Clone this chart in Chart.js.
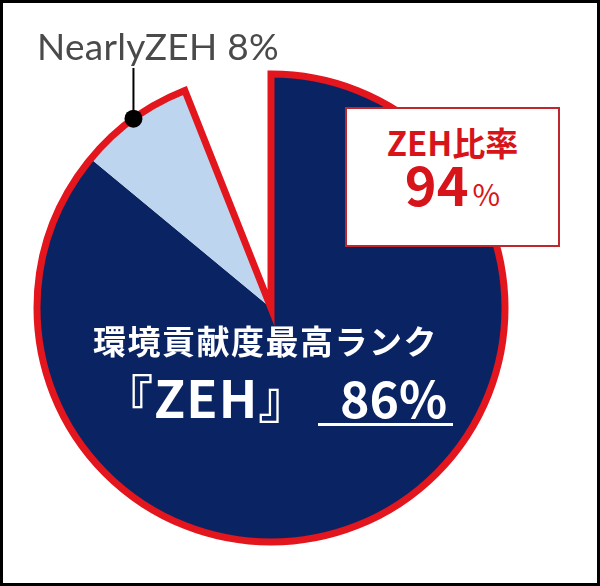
<!DOCTYPE html>
<html>
<head>
<meta charset="utf-8">
<script src="https://cdn.jsdelivr.net/npm/chart.js@4.4.0/dist/chart.umd.min.js"></script>
<style>
  html, body { margin:0; padding:0; background:#fff; }
  body { width:600px; height:586px; position:relative; overflow:hidden; }
  #wrap { position:absolute; left:0; top:0; width:600px; height:586px; }
  .t { position:absolute; white-space:nowrap; line-height:1; }
  #frame { position:absolute; left:0; top:0; width:600px; height:586px; box-sizing:border-box; border:3px solid #000; pointer-events:none; }
  #nearly { left:37px; top:27px; font-family:Lato, sans-serif; font-size:37px; letter-spacing:0.3px; color:#4a4a4a; }
  #box { position:absolute; left:345px; top:107px; width:215px; height:140px; box-sizing:border-box; border:2px solid #c0272d; background:#fff; }
  #ratio { left:345px; width:215px; text-align:center; top:126px; font-family:"Noto Sans CJK JP", sans-serif; font-weight:700; font-size:33px; color:#d7141a; }
  #ratioVal { left:345px; width:215px; text-align:center; top:156px; font-family:"Noto Sans CJK JP", sans-serif; font-weight:700; font-size:54px; color:#d7141a; }
  #ratioVal span { font-size:30px; font-weight:400; margin-left:4px; }
  #rank { left:93px; top:324px; font-family:"Noto Sans CJK JP", sans-serif; font-weight:700; font-size:33px; letter-spacing:1.5px; color:#fff; }
  #zeh { left:102px; top:371px; font-family:"Noto Sans CJK JP", sans-serif; font-weight:700; font-size:51px; letter-spacing:1px; color:#fff; }
  #pct { left:340px; top:371px; font-family:"Noto Sans CJK JP", sans-serif; font-weight:700; font-size:50px; letter-spacing:0px; color:#fff; }
  #uline { position:absolute; left:318px; top:423px; width:135px; height:3px; background:#fff; }
</style>
</head>
<body>
<div id="wrap"><canvas id="c" width="600" height="586"></canvas></div>
<div class="t" id="nearly">NearlyZEH 8%</div>
<div id="box"></div>
<div class="t" id="ratio">ZEH比率</div>
<div class="t" id="ratioVal">94<span>%</span></div>
<div class="t" id="rank">環境貢献度最高ランク</div>
<div class="t" id="zeh">『ZEH』</div>
<div class="t" id="pct">86%</div>
<div id="uline"></div>
<div id="frame"></div>
<script>
// ---- data ----
const categories = ["ZEH", "NearlyZEH", "その他"];
const shares = [86, 8, 6];
const sliceColors = ["#0a2463", "#bdd5ee", "rgba(0,0,0,0)"];

const OUTLINE_COLOR = "#e3151d";
const OUTLINE_WIDTH = 7;
const LEADER_TOP = 68;

const outlinePlugin = {
  id: "outline",
  afterDatasetsDraw(chart) {
    const meta = chart.getDatasetMeta(0);
    const a0 = meta.data[0], a1 = meta.data[1];
    const p0 = a0.getProps(["x", "y", "startAngle", "endAngle", "outerRadius"], true);
    const p1 = a1.getProps(["x", "y", "startAngle", "endAngle", "outerRadius"], true);
    const ctx = chart.ctx;
    ctx.save();
    ctx.beginPath();
    ctx.moveTo(p0.x, p0.y);
    ctx.arc(p0.x, p0.y, p0.outerRadius, p0.startAngle, p1.endAngle);
    ctx.closePath();
    ctx.lineWidth = OUTLINE_WIDTH;
    ctx.lineJoin = "miter";
    ctx.miterLimit = 10;
    ctx.strokeStyle = OUTLINE_COLOR;
    ctx.stroke();
    // leader line + dot for NearlyZEH
    const mid = (p1.startAngle + p1.endAngle) / 2;
    const dx = p1.x + Math.cos(mid) * p1.outerRadius;
    const dy = p1.y + Math.sin(mid) * p1.outerRadius;
    ctx.beginPath();
    ctx.moveTo(dx, dy);
    ctx.lineTo(dx, LEADER_TOP);
    ctx.lineWidth = 2;
    ctx.strokeStyle = "#000";
    ctx.stroke();
    ctx.beginPath();
    ctx.arc(dx, dy, 9, 0, Math.PI * 2);
    ctx.fillStyle = "#000";
    ctx.fill();
    ctx.restore();
  }
};

new Chart(document.getElementById("c"), {
  type: "pie",
  data: {
    labels: categories,
    datasets: [{
      data: shares,
      backgroundColor: sliceColors,
      borderWidth: 0,
      hoverOffset: 0
    }]
  },
  options: {
    responsive: false,
    animation: false,
    events: [],
    layout: { padding: { left: 37, right: 95, top: 74, bottom: 44 } },
    plugins: { legend: { display: false }, tooltip: { enabled: false } }
  },
  plugins: [outlinePlugin]
});
</script>
</body>
</html>
